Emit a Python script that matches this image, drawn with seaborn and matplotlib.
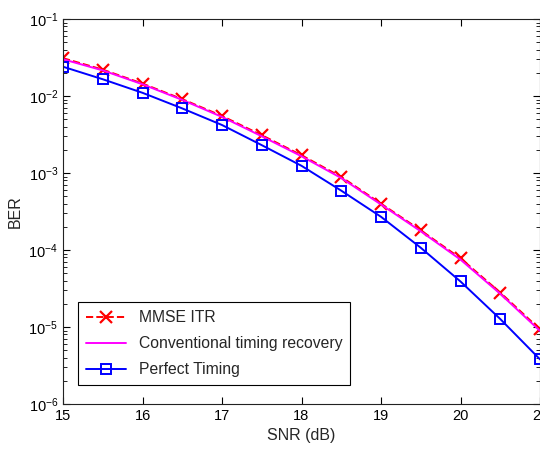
import numpy as np
import pandas as pd
import matplotlib
matplotlib.use("Agg")
import matplotlib.pyplot as plt
import seaborn as sns
from matplotlib.ticker import LogLocator, FixedLocator, FuncFormatter, NullFormatter

# values
snr = [15, 15.5, 16, 16.5, 17, 17.5, 18, 18.5, 19, 19.5, 20, 20.5, 21]
ber_mmse = [3.1e-2, 2.2e-2, 1.45e-2, 9.1e-3, 5.5e-3, 3.1e-3, 1.7e-3, 8.9e-4, 4.0e-4, 1.8e-4, 7.8e-5, 2.8e-5, 9.3e-6]
ber_conv = [3.0e-2, 2.15e-2, 1.42e-2, 8.9e-3, 5.35e-3, 3.0e-3, 1.65e-3, 8.6e-4, 3.9e-4, 1.75e-4, 7.5e-5, 2.7e-5, 8.9e-6]
ber_perfect = [2.4e-2, 1.65e-2, 1.1e-2, 6.9e-3, 4.2e-3, 2.3e-3, 1.24e-3, 5.9e-4, 2.7e-4, 1.07e-4, 3.9e-5, 1.27e-5, 3.8e-6]
labels = ["MMSE ITR", "Conventional timing recovery", "Perfect Timing"]

sns.set_style("ticks")
plt.rcParams["font.family"] = ["Liberation Sans", "DejaVu Sans"]
plt.rcParams["mathtext.default"] = "regular"
plt.rcParams["xtick.direction"] = "in"
plt.rcParams["ytick.direction"] = "in"

fig = plt.figure(figsize=(5.4, 4.51), dpi=100)
ax = fig.add_axes([63/540, 47/451, 477/540, 385/451])

sns.lineplot(x=snr, y=ber_mmse, ax=ax, color="red", linestyle="--", marker="x",
             markersize=8, markeredgewidth=1.6, markeredgecolor="red",
             linewidth=1.4, label=labels[0])
sns.lineplot(x=snr, y=ber_conv, ax=ax, color="magenta", linewidth=1.4, label=labels[1])
sns.lineplot(x=snr, y=ber_perfect, ax=ax, color="blue", marker="s", markersize=7,
             markerfacecolor="none", markeredgecolor="blue", markeredgewidth=1.4,
             linewidth=1.4, label=labels[2])

ax.set_yscale("log")
ax.set_xlim(15, 21)
ax.set_ylim(1e-6, 1e-1)
ax.xaxis.set_major_locator(FixedLocator([15, 16, 17, 18, 19, 20, 21]))
ax.yaxis.set_major_locator(LogLocator(base=10, numticks=10))
ax.yaxis.set_minor_locator(LogLocator(base=10, subs=np.arange(2, 10), numticks=20))
ax.yaxis.set_minor_formatter(NullFormatter())
ax.yaxis.set_major_formatter(FuncFormatter(lambda v, p: r"$10^{%d}$" % round(np.log10(v))))
ax.tick_params(which="both", top=True, right=True, labelsize=10.5, colors="black")
ax.tick_params(which="major", length=5, width=0.8)
ax.tick_params(which="minor", length=3, width=0.6)
for s in ax.spines.values():
    s.set_linewidth(0.8)
    s.set_color("#222222")

ax.set_xlabel("SNR (dB)", fontsize=11.5)
ax.set_ylabel("BER", fontsize=11.5)

leg = ax.legend(loc="lower left", bbox_to_anchor=(0.031, 0.049), borderaxespad=0,
                fontsize=11.3, fancybox=False, frameon=True, handlelength=2.6,
                labelspacing=0.7, borderpad=0.5)
leg.get_frame().set_edgecolor("black")
leg.get_frame().set_linewidth(0.8)
leg.get_frame().set_alpha(1)

fig.savefig("out.png", dpi=100)
